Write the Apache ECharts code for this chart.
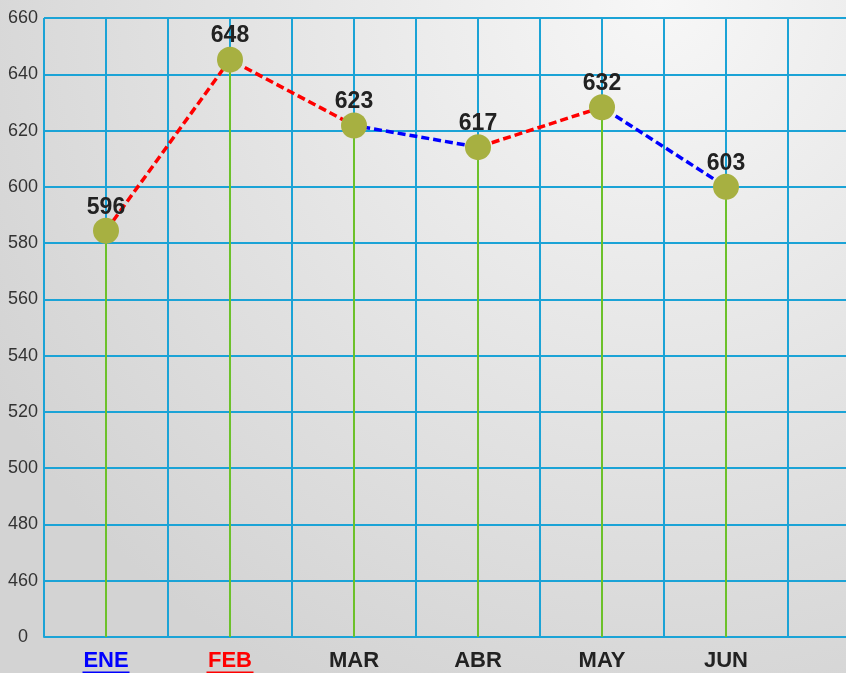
<!DOCTYPE html>
<html>
<head>
<meta charset="utf-8">
<script src="https://cdn.jsdelivr.net/npm/echarts@6/dist/echarts.min.js"></script>
<style>
html, body { margin: 0; padding: 0; }
#container { width: 846px; height: 673px; }
</style>
</head>
<body>
<div id="container"></div>
<script>
// datos
var meses = ['ENE', 'FEB', 'MAR', 'ABR', 'MAY', 'JUN'];
var etiquetas = ['596', '648', '623', '617', '632', '603'];
// posicion en el eje
var valores = [584.4, 645.2, 621.8, 614.1, 628.3, 600.0];
// color de cada tramo
var tramos = ['#ff0000', '#ff0000', '#0000ff', '#ff0000', '#0000ff'];
var colorMes = ['#0000ff', '#ff0000', '#222222', '#222222', '#222222', '#222222'];

var font = "'Liberation Sans', Arial, sans-serif";
var azul = '#1ba3d6';

var puntos = [];
for (var i = 0; i < valores.length; i++) {
    puntos.push([i, valores[i]]);
}

var piezas = [];
for (var t = 0; t < tramos.length; t++) {
    piezas.push({ gte: t, lt: t + 1, color: tramos[t] });
}
piezas[piezas.length - 1].lte = tramos.length;
delete piezas[piezas.length - 1].lt;

var rich = {};
for (var k = 0; k < meses.length; k++) {
    rich['m' + k] = { fontFamily: font, fontSize: 22, fontWeight: 'bold', color: colorMes[k], lineHeight: 20 };
}
rich.u0 = { width: 47, height: 2, lineHeight: 3, backgroundColor: '#0000ff' };
rich.u1 = { width: 47, height: 2, lineHeight: 3, backgroundColor: '#ff0000' };

var myChart = echarts.init(document.getElementById('container'));
var option = {
    backgroundColor: {
        type: 'radial', x: 0.78, y: 0.0, r: 1.15,
        colorStops: [
            { offset: 0, color: '#f7f7f7' },
            { offset: 1, color: '#d3d3d3' }
        ]
    },
    animation: false,
    grid: { left: 44, right: -4, top: 18, bottom: 36, outerBoundsMode: 'none', containLabel: false },
    visualMap: {
        show: false,
        type: 'piecewise',
        dimension: 0,
        seriesIndex: 1,
        pieces: piezas
    },
    xAxis: {
        type: 'value',
        min: -0.5,
        max: 6,
        interval: 0.5,
        axisLine: { show: true, lineStyle: { color: azul, width: 2 } },
        axisTick: { show: false },
        splitLine: { show: true, lineStyle: { color: azul, width: 2 } },
        axisLabel: {
            margin: 14,
            showMinLabel: true,
            formatter: function (v) {
                if (v % 1 !== 0 || v < 0 || v >= meses.length) return '';
                var s = '{m' + v + '|' + meses[v] + '}';
                if (v < 2) s += '\n{u' + v + '|}';
                return s;
            },
            rich: rich
        }
    },
    yAxis: {
        type: 'value',
        min: 440,
        max: 660,
        interval: 20,
        axisLine: { show: true, lineStyle: { color: azul, width: 2 } },
        axisTick: { show: false },
        splitLine: { show: true, lineStyle: { color: azul, width: 2 } },
        axisLabel: {
            margin: 21,
            align: 'center',
            fontFamily: font,
            fontSize: 18,
            color: '#333333',
            formatter: function (v) { return v === 440 ? '0' : String(v); }
        }
    },
    series: [
        {
            type: 'bar',
            data: puntos,
            barWidth: 2,
            itemStyle: { color: '#6cc12a' },
            z: 1
        },
        {
            type: 'line',
            data: puntos,
            showSymbol: false,
            lineStyle: { width: 3.5, type: [8, 4] },
            z: 3
        },
        {
            type: 'scatter',
            data: puntos,
            symbolSize: 26,
            itemStyle: { color: '#a7b041', opacity: 1 },
            label: {
                show: true,
                position: 'top',
                distance: -1,
                fontFamily: font,
                fontSize: 23,
                fontWeight: 'bold',
                color: '#222222',
                formatter: function (p) { return etiquetas[p.dataIndex]; }
            },
            z: 4
        }
    ]
};
myChart.setOption(option);
</script>
</body>
</html>
